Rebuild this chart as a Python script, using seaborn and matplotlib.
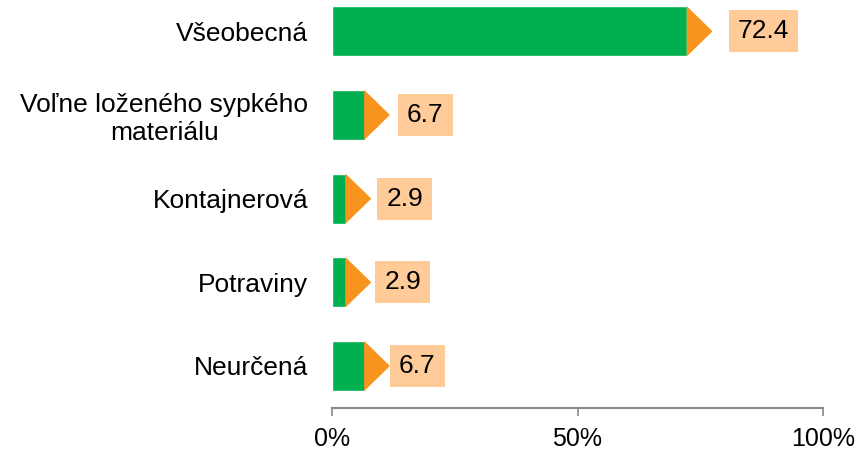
import matplotlib
matplotlib.use("Agg")
import matplotlib.pyplot as plt
from matplotlib.patches import Polygon
import seaborn as sns

categories = ["Všeobecná", "Voľne loženého sypkého\nmateriálu", "Kontajnerová", "Potraviny", "Neurčená"]
values = [72.4, 6.7, 2.9, 2.9, 6.7]
labels = ["72.4", "6.7", "2.9", "2.9", "6.7"]
xticks = [0, 50, 100]

# gap (px) between arrow tip and value box, set by hand in the original
label_gap_px = [16, 8, 6, 4, 0]

green = "#00B050"
orange = "#F7941D"
box_color = "#FFCC99"
grey = "#898989"

sns.set_style("white")
plt.rcParams["font.family"] = ["Liberation Sans", "DejaVu Sans"]

fig = plt.figure(figsize=(8.6, 4.51), dpi=100)
ax = fig.add_axes([332 / 860, 43 / 451, 491 / 860, 408 / 451])

sns.barplot(x=values, y=categories, color=green, width=0.6, saturation=1, ax=ax, orient="h")

ax.set_xlim(0, 100)
ax.set_ylim(4.502, -0.374)

# orange arrow tip + value box at end of every bar
arrow_w = 5.1
for bar, lab, gap in zip(ax.patches, labels, label_gap_px):
    x_end = bar.get_x() + bar.get_width()
    y0 = bar.get_y()
    h = bar.get_height()
    # start the tip a hair inside the bar so no white seam shows
    tri = Polygon([[x_end - 0.15, y0], [x_end + arrow_w, y0 + h / 2], [x_end - 0.15, y0 + h]],
                  closed=True, facecolor=orange, edgecolor="none")
    ax.add_patch(tri)
    ax.annotate(lab, (x_end + arrow_w, y0 + h / 2), xytext=(gap * 0.72 + 6.5, 0),
                textcoords="offset points", ha="left", va="center", fontsize=19, color="black",
                bbox=dict(boxstyle="square,pad=0.34", facecolor=box_color, edgecolor="none"))

ax.set_xticks(xticks)
ax.set_xticklabels([f"{t}%" for t in xticks], fontsize=18, color="black")
ax.tick_params(axis="x", length=6, width=1.2, color=grey, direction="out", pad=8, bottom=True)
ax.tick_params(axis="y", length=0, pad=17, labelsize=19, labelcolor="black")
for lbl in ax.get_yticklabels():
    lbl.set_multialignment("center")

sns.despine(ax=ax, left=True, top=True, right=True)
ax.spines["bottom"].set_color(grey)
ax.spines["bottom"].set_linewidth(1.5)
ax.set_xlabel("")
ax.set_ylabel("")

fig.savefig("out.png", dpi=100)
